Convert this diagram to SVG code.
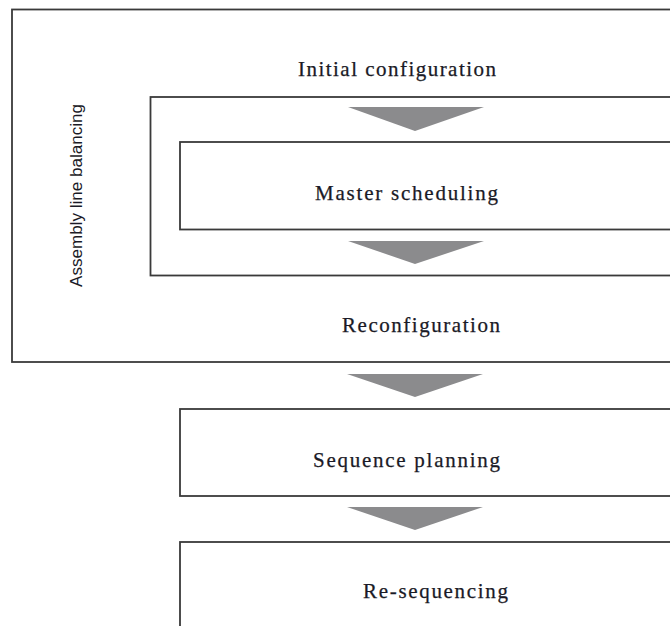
<svg xmlns="http://www.w3.org/2000/svg" width="670" height="626" viewBox="0 0 670 626">
  <style>
    .box { fill: none; stroke: #3a3a3a; stroke-width: 1.8; }
    .arrow { fill: #8b8b8d; stroke: none; }
    .label { font-family: "Liberation Serif", "Times New Roman", serif; font-size: 21px; fill: #1a1a26; stroke: #1a1a26; stroke-width: 0.25; }
    .side { font-family: "Liberation Sans", Arial, sans-serif; font-size: 17px; fill: #1a1a26; }
  </style>
  <rect width="670" height="626" fill="#ffffff"/>

  <!-- Assembly line balancing: outermost frame -->
  <g id="assembly-line-balancing">
    <rect class="box" x="12" y="9.5" width="700" height="352.5"/>
    <text class="side" transform="translate(82,287) rotate(-90)" textLength="183" lengthAdjust="spacingAndGlyphs">Assembly line balancing</text>
  </g>

  <!-- Initial configuration label above the configuration frame -->
  <g id="initial-configuration">
    <text class="label" x="298" y="75.5" textLength="198" lengthAdjust="spacing">Initial configuration</text>
  </g>
  <g id="configuration-frame">
    <rect class="box" x="150.5" y="97" width="560" height="178.5"/>
  </g>

  <g id="master-scheduling">
    <rect class="box" x="180" y="142" width="530" height="87.5"/>
    <text class="label" x="315" y="200" textLength="183" lengthAdjust="spacing">Master scheduling</text>
  </g>

  <g id="reconfiguration">
    <text class="label" x="342" y="332" textLength="158" lengthAdjust="spacing">Reconfiguration</text>
  </g>

  <g id="sequence-planning">
    <rect class="box" x="180" y="409" width="530" height="87"/>
    <text class="label" x="313" y="467" textLength="187" lengthAdjust="spacing">Sequence planning</text>
  </g>

  <g id="re-sequencing">
    <rect class="box" x="180" y="542" width="530" height="120"/>
    <text class="label" x="363" y="598" textLength="145" lengthAdjust="spacing">Re-sequencing</text>
  </g>

  <!-- Flow arrows between stages -->
  <g id="connectors">
    <polygon class="arrow" points="348,107 484,107 415,131"/>
    <polygon class="arrow" points="348,241 484,241 415,264"/>
    <polygon class="arrow" points="347,374 483,374 415,397"/>
    <polygon class="arrow" points="347,507 483,507 415,530"/>
  </g>
</svg>
